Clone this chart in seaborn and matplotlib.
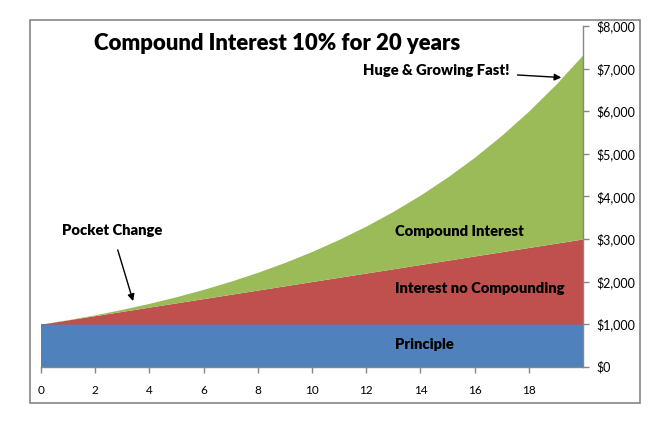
import seaborn as sns
import matplotlib.pyplot as plt
from matplotlib.patches import Rectangle
import pandas as pd

# values (10% compounded monthly vs simple interest)
years = [0, 1, 2, 3, 4, 5, 6, 7, 8, 9, 10, 11, 12, 13, 14, 15, 16, 17, 18, 19, 20]
principle = [1000] * 21
simple_total = [1000, 1100, 1200, 1300, 1400, 1500, 1600, 1700, 1800, 1900, 2000,
                2100, 2200, 2300, 2400, 2500, 2600, 2700, 2800, 2900, 3000]
compound_total = [1000, 1105, 1220, 1348, 1489, 1645, 1818, 2008, 2218, 2450, 2707,
                  2991, 3304, 3650, 4032, 4454, 4920, 5436, 6005, 6633, 7328]
x_ticks = [0, 2, 4, 6, 8, 10, 12, 14, 16, 18]
y_ticks = [0, 1000, 2000, 3000, 4000, 5000, 6000, 7000, 8000]

df = pd.DataFrame({"year": years, "principle": principle,
                   "simple": simple_total, "compound": compound_total})
df["interest"] = df["simple"] - df["principle"]
df["extra"] = df["compound"] - df["simple"]

sns.set_theme(style="white")
plt.rcParams['font.family'] = ['Lato', 'DejaVu Sans']

fig = plt.figure(figsize=(6.66, 4.21), dpi=100)
ax = fig.add_axes([41 / 666, 1 - 366.7 / 421, (583 - 41) / 666, (366.7 - 26) / 421])

ax.stackplot(df["year"], df["principle"], df["interest"], df["extra"],
             colors=["#4F81BD", "#C0504D", "#9BBB59"], linewidth=0)

ax.set_xlim(0, 20)
ax.set_ylim(0, 8000)
ax.set_xticks(x_ticks)
ax.set_xticklabels([str(t) for t in x_ticks])
ax.set_yticks(y_ticks)
ax.set_yticklabels(["$0" if v == 0 else "${:,}".format(v) for v in y_ticks])
ax.yaxis.tick_right()

for side in ["left", "top"]:
    ax.spines[side].set_visible(False)
for side in ["right", "bottom"]:
    ax.spines[side].set_color("#868686")
    ax.spines[side].set_linewidth(1)
ax.tick_params(axis="x", direction="out", length=4, width=1, color="#868686",
               pad=9, labelsize=8.5, labelcolor="black", bottom=True)
ax.tick_params(axis="y", direction="out", length=4, width=1, color="#868686",
               pad=6, labelsize=9, labelcolor="black", right=True, left=False)

ax.text(0.435, 0.949, "Compound Interest 10% for 20 years", transform=ax.transAxes,
        ha="center", va="center", fontsize=15.9, fontweight="heavy", color="black")
txt = dict(fontsize=10.6, fontweight="heavy", color="black", va="center", ha="left")
ax.text(13.06, 3180, "Compound Interest", **txt)
ax.text(13.06, 1830, "Interest no Compounding", **txt)
ax.text(13.06, 530, "Principle", **txt)
ax.annotate("Pocket Change", xy=(3.4, 1540), xytext=(0.77, 3190),
            arrowprops=dict(arrowstyle="-|>", color="black", lw=1, shrinkA=7, shrinkB=0,
                            mutation_scale=10), **txt)
ax.annotate("Huge & Growing Fast!", xy=(19.2, 6790), xytext=(11.9, 6960),
            arrowprops=dict(arrowstyle="-|>", color="black", lw=1, shrinkA=3, shrinkB=0,
                            mutation_scale=10), **txt)

fig.patches.append(Rectangle((30 / 666, 1 - 403 / 421), 610 / 666, 383 / 421,
                             transform=fig.transFigure, fill=False,
                             edgecolor="#868686", linewidth=1.2))

fig.savefig("out.png", dpi=100)
